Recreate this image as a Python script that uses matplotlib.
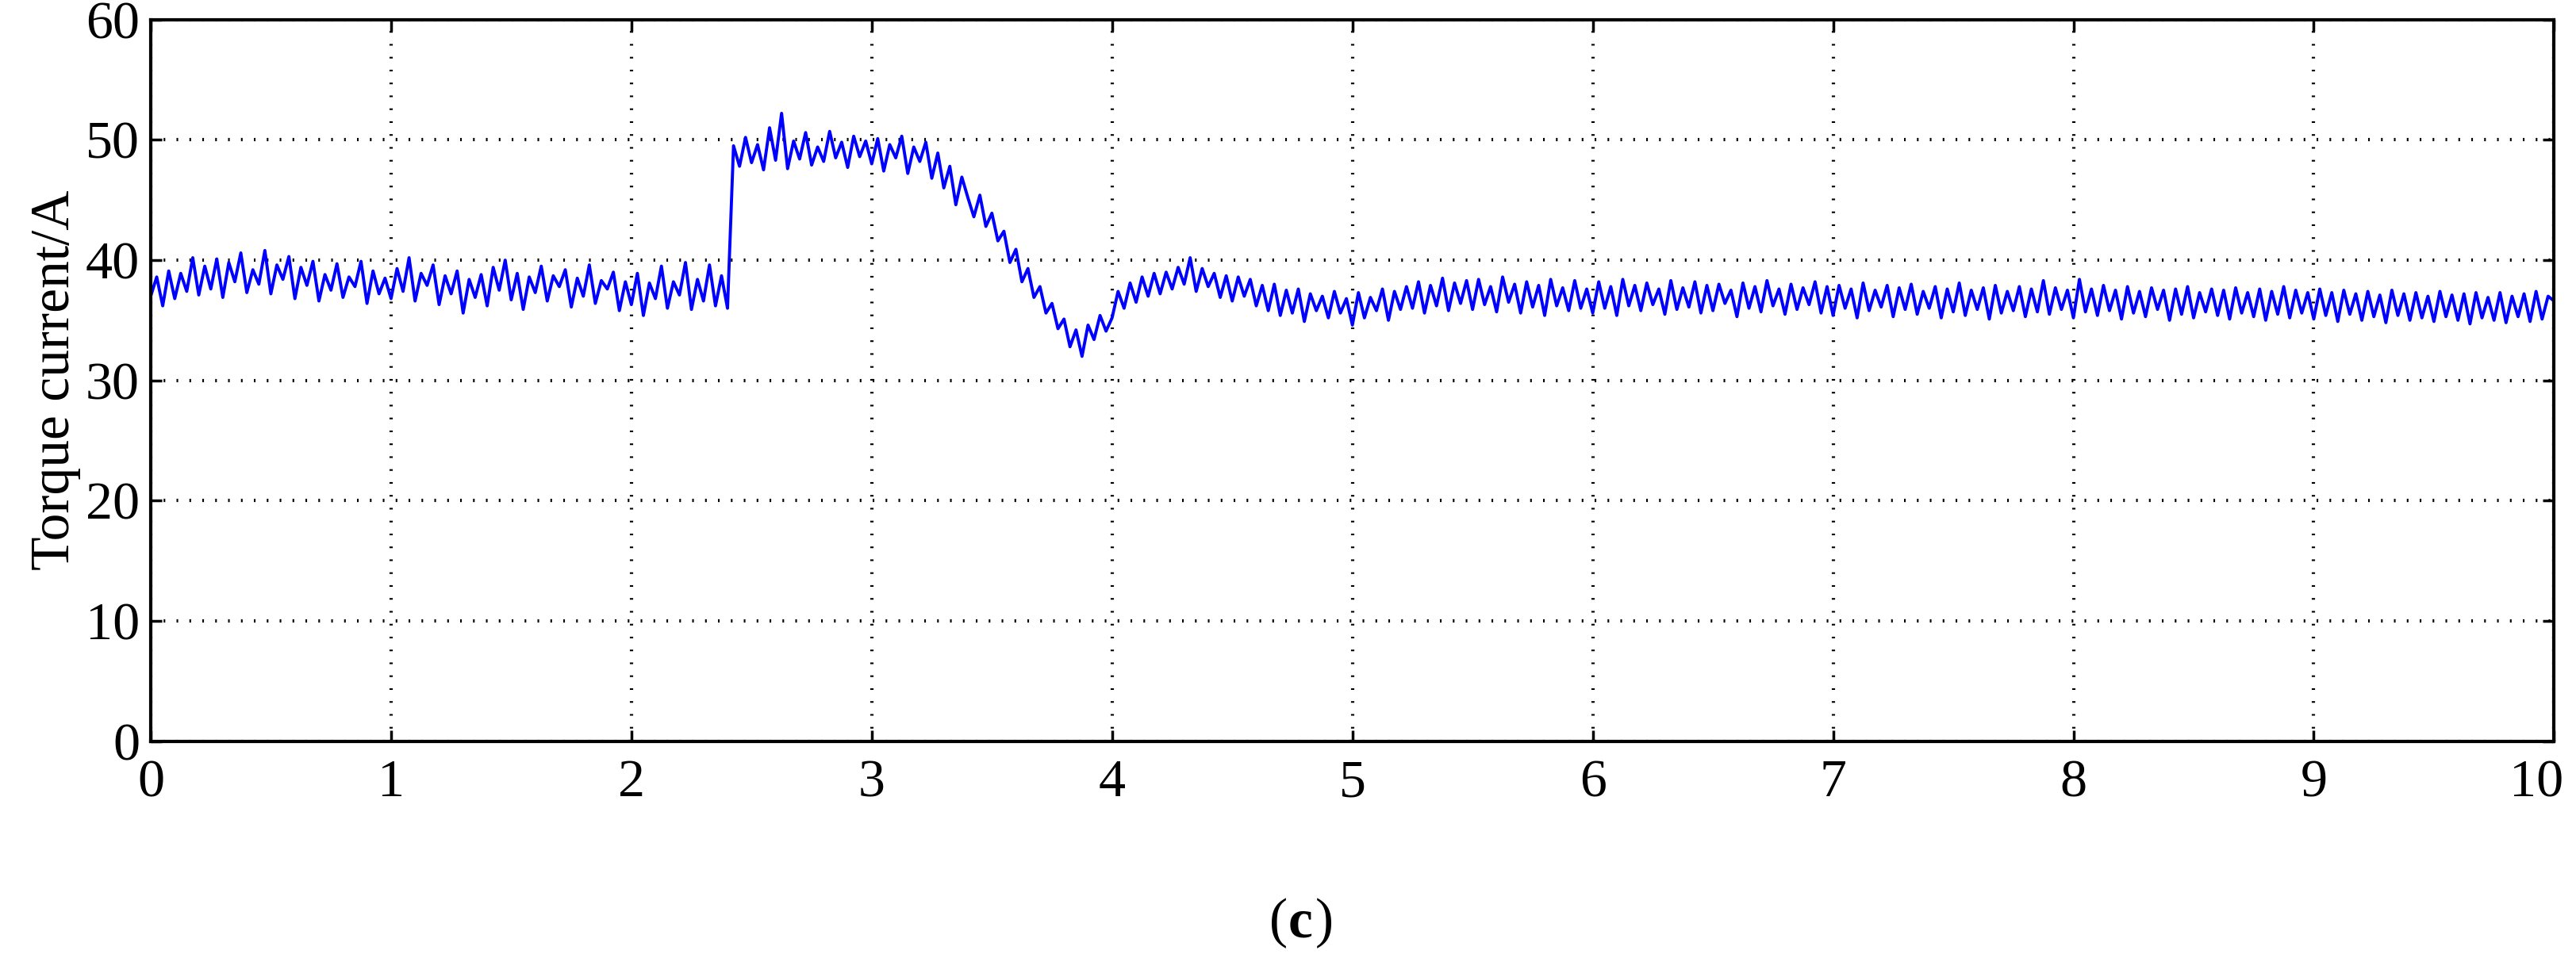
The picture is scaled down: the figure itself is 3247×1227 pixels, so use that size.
import numpy as np
import matplotlib.pyplot as plt
from matplotlib.transforms import ScaledTranslation

# torque current samples, 0.025 s apart
current = [
    37.0,38.6,36.2,39.1,36.8,38.9,37.4,40.2,37.1,39.5, 37.6,40.1,36.9,39.8,38.2,40.6,37.3,39.2,38.0,40.8,
    37.2,39.6,38.4,40.3,36.8,39.4,37.9,39.9,36.6,38.8, 37.5,39.7,36.9,38.6,37.8,39.9,36.4,39.1,37.2,38.5,
    36.8,39.3,37.4,40.2,36.6,38.9,37.9,39.6,36.3,38.7, 37.2,39.1,35.6,38.4,36.9,38.8,36.2,39.4,37.5,40.0,
    36.7,38.9,35.9,38.6,37.3,39.5,36.6,38.7,37.8,39.2, 36.1,38.5,37.0,39.6,36.4,38.3,37.6,39.0,35.8,38.2,
    36.3,38.9,35.4,38.1,36.8,39.5,36.0,38.2,37.1,39.8,35.9,38.4,36.6,39.6,36.2,38.7,
    36.0,
    49.5,47.8,50.2,48.1,49.6,47.5,51.0,48.3,52.2,47.6,49.9,48.4,50.6,47.9,49.4,48.2,50.7,48.5,49.8,47.7,50.3,48.6,49.9,
    48.0,50.1,47.4,49.6,48.5,50.3,47.2,49.4,48.2,49.8, 46.8,48.9,46.0,47.8,44.6,46.9,45.2,43.6,45.4,42.8,
    43.9,41.6,42.4,39.8,40.9,38.2,39.3,36.9,37.8,35.6, 36.4,34.3,35.1,32.8,34.2,32.0,34.6,33.4,35.4,34.1,
    35.2,37.4,36.0,38.1,36.5,38.6,37.0,38.9,37.2,39.0, 37.6,39.4,38.0,40.2,37.4,39.3,37.8,38.9,36.9,38.7,
    36.6,38.6,37.0,38.4,36.2,37.9,35.8,38.0,35.4,37.5, 35.6,37.6,34.9,37.2,35.8,37.0,35.2,37.4,35.6,36.8,
    34.6,37.3,35.2,36.9,35.8,37.6,35.0,37.4,35.9,37.8, 36.0,38.2,35.6,37.9,36.2,38.5,35.8,38.1,36.4,38.3,
    35.9,38.4,36.3,37.8,35.7,38.6,36.5,38.0,35.6,38.2, 36.1,37.9,35.4,38.4,36.2,37.7,35.8,38.3,36.0,37.6,
    35.6,38.2,36.0,37.8,35.4,38.4,36.2,37.9,35.8,38.1, 36.3,37.6,35.5,38.3,35.9,37.7,36.1,38.2,35.6,37.9,
    35.8,38.0,36.4,37.5,35.3,38.1,36.0,37.8,35.7,38.3, 36.2,37.6,35.5,38.0,35.9,37.7,36.3,38.2,35.6,37.8,
    35.4,37.9,36.0,37.6,35.2,38.1,35.8,37.5,36.1,37.9, 35.3,37.7,35.9,38.0,35.5,37.4,36.0,37.8,35.2,37.6,
    35.7,38.1,35.4,37.5,35.9,37.7,35.1,37.9,35.6,37.4, 35.8,37.8,35.3,37.6,35.7,38.3,35.5,37.7,35.9,37.5,
    35.2,38.4,35.7,37.6,35.4,37.9,35.8,37.5,35.1,37.8, 35.6,37.4,35.3,37.7,35.9,37.5,35.0,37.6,35.5,37.8,
    35.2,37.3,35.7,37.6,35.4,37.5,35.1,37.7,35.6,37.3, 35.3,37.6,35.0,37.4,35.5,37.8,35.2,37.5,35.6,37.3,
    35.1,37.6,35.4,37.3,34.9,37.5,35.5,37.2,35.0,37.4, 35.3,37.1,34.8,37.5,35.4,37.2,35.0,37.3,35.2,37.0,
    34.9,37.4,35.3,37.1,35.0,37.2,34.7,37.3,35.2,36.9, 35.0,37.3,34.8,37.0,35.3,37.2,34.9,37.4,35.1,37.0,
    36.6,
]
dt = 0.025
xticks = list(range(0, 11))
yticks = [0, 10, 20, 30, 40, 50, 60]

t = np.arange(len(current)) * dt

plt.rcParams['font.family'] = ['Liberation Serif', 'DejaVu Serif']
fig = plt.figure(figsize=(32.47, 12.27), dpi=100)
ax = fig.add_axes([0.0585, 0.238, 0.933, 0.742])

ax.plot(t, current, color='#0000ff', lw=2.8)

ax.set_xlim(0, 10)
ax.set_ylim(0, 60)
ax.set_xticks(xticks)
ax.set_yticks(yticks)
ax.tick_params(labelsize=49, direction='in', top=True, right=True, length=10, width=2.5, pad=10)
ax.tick_params(axis='x', pad=16)
ax.grid(True, color='black', lw=3, linestyle=(0, (0.5, 3.4)))
for s in ax.spines.values():
    s.set_linewidth(3)

# keep the last x label inside the figure
last = ax.get_xticklabels()[-1]
last.set_transform(last.get_transform() + ScaledTranslation(-0.22, 0, fig.dpi_scale_trans))

ax.set_ylabel('Torque current/A', fontsize=50, labelpad=4)
fig.text(0.5, 0.025, '(', fontsize=50, ha='right', va='bottom')
fig.text(0.5, 0.025, 'c', fontsize=50, fontweight='bold', ha='left', va='bottom')
fig.text(0.5105, 0.025, ')', fontsize=50, ha='left', va='bottom')

plt.savefig('out.png')
